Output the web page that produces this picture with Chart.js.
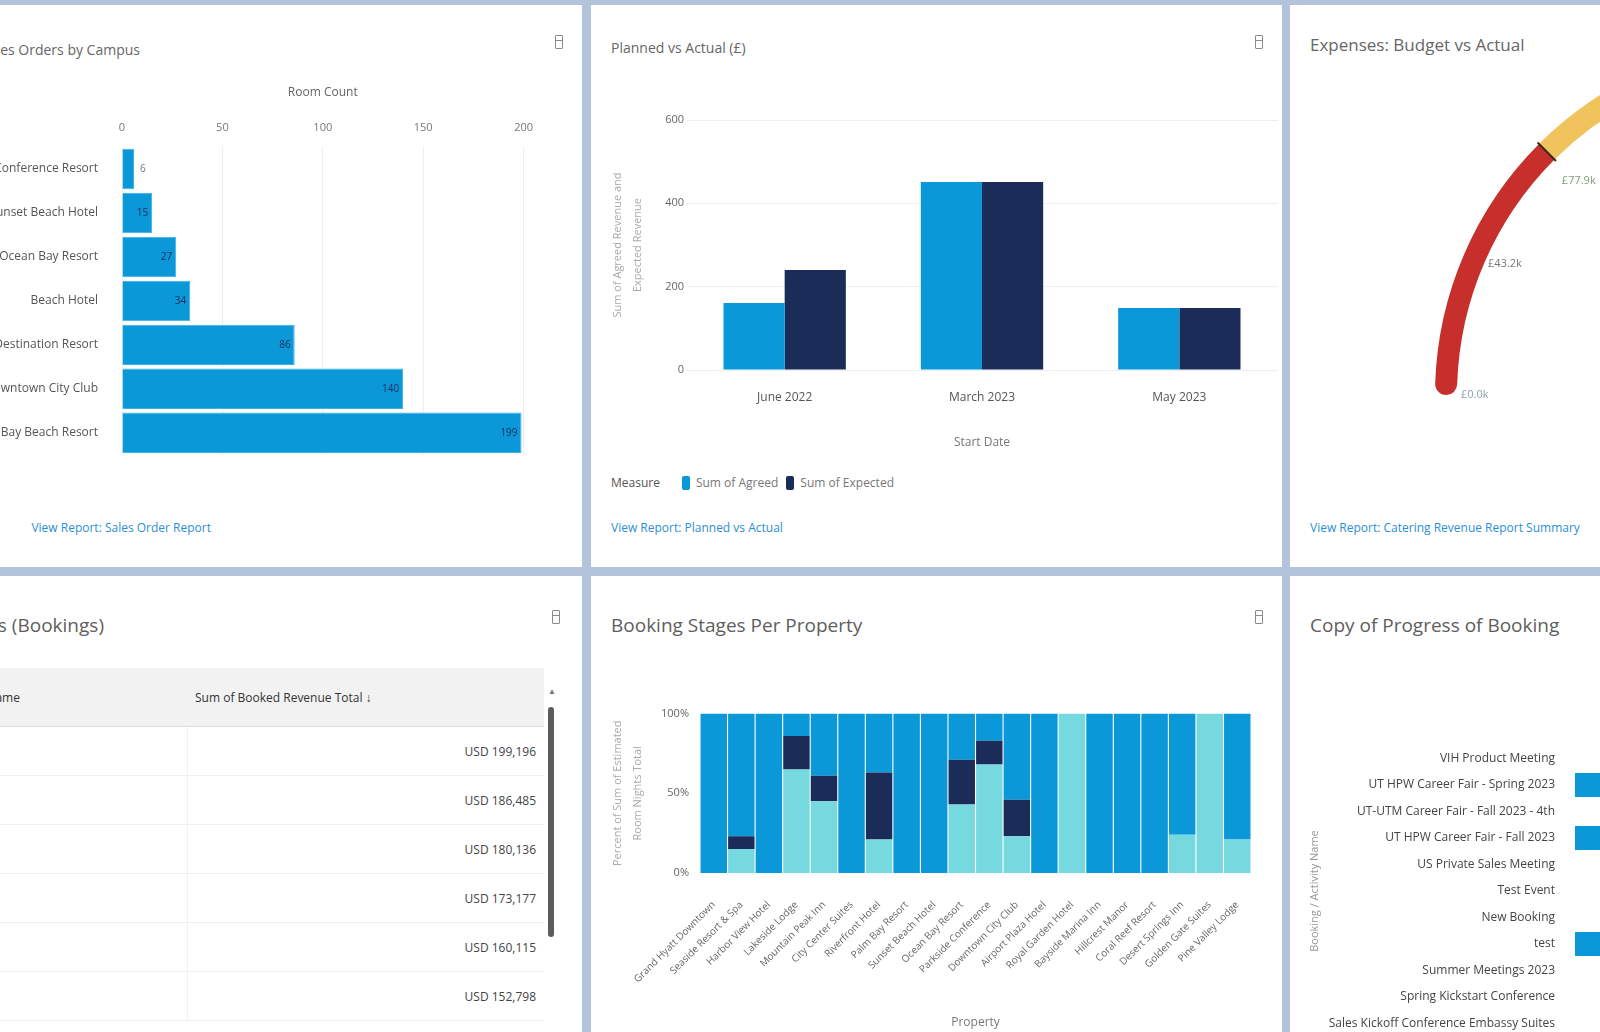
<!DOCTYPE html>
<html>
<head>
<meta charset="utf-8">
<title>Bookings dashboard</title>
<script src="https://cdn.jsdelivr.net/npm/chart.js@4.4.0/dist/chart.umd.min.js"></script>
<style>
  html, body { margin: 0; padding: 0; }
  body {
    width: 1600px; height: 1032px; overflow: hidden; position: relative;
    background: #b3c3dc;
    font-family: 'Segoe UI', 'Open Sans', 'Noto Sans', sans-serif;
  }
  .panel { position: absolute; background: #fff; overflow: hidden; }
  .panel canvas, .panel .abs { position: absolute; }
  .title-sm { font-size: 14px; line-height: 20px; color: #666; white-space: nowrap; }
  .title-md { font-size: 17px; line-height: 22px; color: #666; white-space: nowrap; }
  .title-lg { font-size: 19px; line-height: 26px; color: #605e5c; white-space: nowrap; }
  .link { font-size: 12px; line-height: 16px; color: #2a8fd6; white-space: nowrap; }
  .icon { width: 6px; height: 12px; border: 1.5px solid #8a8a8a; border-radius: 1px; }
  .icon::after { content: ''; position: absolute; left: 0; right: 0; top: 4px; border-top: 1.5px solid #8a8a8a; }
  .legend { font-size: 12px; line-height: 16px; color: #777; white-space: nowrap; display: flex; align-items: center; }
  .legend b { font-weight: normal; color: #555; margin-right: 14px; }
  .legend i { display: inline-block; width: 8px; height: 14px; border-radius: 2px; margin: 0 6px 0 8px; }
  table.grid { border-collapse: collapse; font-size: 12px; color: #444; table-layout: fixed; }
  table.grid th { background: #f2f2f2; height: 58px; font-weight: normal; color: #333; text-align: left;
                  padding: 0 8px; border-bottom: 1px solid #dcdcdc; white-space: nowrap; }
  table.grid td { height: 48px; padding: 0 8px; border-bottom: 1px solid #efefef; white-space: nowrap; }
  table.grid td:first-child { border-right: 1px solid #f0f0f0; }
  table.grid td.num { text-align: right; }
  .scroll { width: 6px; border-radius: 3px; background: #5c5c5c; }
</style>
</head>
<body>

<div class="panel" style="left:-107px;top:5px;width:689px;height:562px">
  <div class="abs title-sm" style="right:442px;top:35px">Sales Orders by Campus</div>
  <div class="abs icon" style="left:662px;top:30px"></div>
  <canvas id="campusChart" width="646" height="397" style="left:7px;top:76px"></canvas>
  <div class="abs link" style="right:371px;top:515px">View Report: Sales Order Report</div>
</div>

<div class="panel" style="left:591px;top:5px;width:691px;height:562px">
  <div class="abs title-sm" style="left:20px;top:33px">Planned vs Actual (£)</div>
  <div class="abs icon" style="left:664px;top:30px"></div>
  <canvas id="plannedChart" width="678" height="344" style="left:12px;top:105px"></canvas>
  <div class="abs legend" id="plannedLegend" style="left:20px;top:470px"><b>Measure</b></div>
  <div class="abs link" style="left:20px;top:515px">View Report: Planned vs Actual</div>
</div>

<div class="panel" style="left:1290px;top:5px;width:1110px;height:562px">
  <div class="abs title-md" style="left:20px;top:29px">Expenses: Budget vs Actual</div>
  <canvas id="gaugeChart" width="980" height="375" style="left:10px;top:25px"></canvas>
  <div class="abs link" style="left:20px;top:515px">View Report: Catering Revenue Report Summary</div>
</div>

<div class="panel" style="left:-107px;top:576px;width:689px;height:500px">
  <div class="abs title-lg" style="right:478px;top:36px">Top Accounts (Bookings)</div>
  <div class="abs icon" style="left:659px;top:34px"></div>
  <table class="abs grid" id="accountTable" style="left:37px;top:92px;width:614px">
    <colgroup><col style="width:257px"><col style="width:357px"></colgroup>
  </table>
  <div class="abs" style="left:655px;top:109px;font-size:8px;color:#777">&#9650;</div>
  <div class="abs scroll" style="left:655px;top:131px;height:230px"></div>
</div>

<div class="panel" style="left:591px;top:576px;width:691px;height:500px">
  <div class="abs title-lg" style="left:20px;top:36px">Booking Stages Per Property</div>
  <div class="abs icon" style="left:664px;top:34px"></div>
  <canvas id="stageChart" width="669" height="338" style="left:12px;top:120px"></canvas>
</div>

<div class="panel" style="left:1290px;top:576px;width:1110px;height:500px">
  <div class="abs title-lg" style="left:20px;top:36px">Copy of Progress of Booking</div>
  <canvas id="progressChart" width="700" height="330" style="left:14px;top:150px"></canvas>
</div>

<script>
// ---- data ----
const campusNames = ['Lakeside Conference Resort', 'Sunset Beach Hotel', 'Ocean Bay Resort', 'Beach Hotel',
                     'Mountain Destination Resort', 'Downtown City Club', 'Palm Bay Beach Resort'];
const campusRooms = [6, 15, 27, 34, 86, 140, 199];

const plannedMonths = ['June 2022', 'March 2023', 'May 2023'];
const agreedRevenue = [161, 451, 149];
const expectedRevenue = [240, 451, 149];

const gaugeBands = [25, 37, 38];
const gaugeTickValues = [0, 13, 24];
const gaugeTickLabels = ['£0.0k', '£43.2k', '£77.9k'];
const gaugeTarget = 25;

const accountNames = ['Contoso', 'Fabrikam', 'Adatum', 'Tailspin', 'Litware', 'Proseware'];
const accountRevenue = ['USD 199,196', 'USD 186,485', 'USD 180,136', 'USD 173,177', 'USD 160,115', 'USD 152,798'];

const properties = ['Grand Hyatt Downtown', 'Seaside Resort & Spa', 'Harbor View Hotel', 'Lakeside Lodge',
  'Mountain Peak Inn', 'City Center Suites', 'Riverfront Hotel', 'Palm Bay Resort', 'Sunset Beach Hotel',
  'Ocean Bay Resort', 'Parkside Conference', 'Downtown City Club', 'Airport Plaza Hotel', 'Royal Garden Hotel',
  'Bayside Marina Inn', 'Hillcrest Manor', 'Coral Reef Resort', 'Desert Springs Inn', 'Golden Gate Suites',
  'Pine Valley Lodge'];
const stageDefinite  = [0, 15, 0, 65, 45, 0, 21, 0, 0, 43, 68, 23, 0, 100, 0, 0, 0, 24, 100, 21];
const stageTentative = [0, 8, 0, 21, 16, 0, 42, 0, 0, 28, 15, 23, 0, 0, 0, 0, 0, 0, 0, 0];
const stageProspect  = [100, 77, 100, 14, 39, 100, 37, 100, 100, 29, 17, 54, 100, 0, 100, 100, 100, 76, 0, 79];

const progressEvents = ['VIH Product Meeting', 'UT HPW Career Fair - Spring 2023', 'UT-UTM Career Fair - Fall 2023 - 4th',
  'UT HPW Career Fair - Fall 2023', 'US Private Sales Meeting', 'Test Event', 'New Booking', 'test',
  'Summer Meetings 2023', 'Spring Kickstart Conference', 'Sales Kickoff Conference Embassy Suites'];
const progressValues = [0, 12, 0, 9, 0, 0, 0, 10, 0, 0, 0];

const BLUE = '#0a98d8', NAVY = '#1b2c58', TEAL = '#76d9e0', RED = '#c62f2b', YELLOW = '#f0c35c';

Chart.defaults.font.family = "'Segoe UI', 'Open Sans', 'Noto Sans', sans-serif";
Chart.defaults.animation = false;
Chart.defaults.plugins.tooltip.enabled = false;
Chart.defaults.plugins.legend.display = false;

// value labels at the end of each horizontal bar
const barValueLabels = {
  id: 'barValueLabels',
  afterDatasetsDraw(chart) {
    const ctx = chart.ctx;
    const meta = chart.getDatasetMeta(0);
    ctx.save();
    ctx.font = '10px ' + Chart.defaults.font.family;
    ctx.textBaseline = 'middle';
    meta.data.forEach((bar, i) => {
      const v = chart.data.datasets[0].data[i];
      if (bar.x - bar.base > 24) {
        ctx.textAlign = 'right'; ctx.fillStyle = NAVY;
        ctx.fillText(v, bar.x - 4, bar.y);
      } else {
        ctx.textAlign = 'left'; ctx.fillStyle = '#777';
        ctx.fillText(v, bar.x + 6, bar.y);
      }
    });
    ctx.restore();
  }
};

// --- Room count by campus (horizontal bars) ---
new Chart(document.getElementById('campusChart'), {
  type: 'bar',
  data: {
    labels: campusNames,
    datasets: [{ data: campusRooms, backgroundColor: BLUE, borderColor: '#3cb2e6', borderWidth: 1,
                 barPercentage: 0.92, categoryPercentage: 1 }]
  },
  options: {
    responsive: false, indexAxis: 'y',
    layout: { padding: { right: 10, bottom: 5 } },
    scales: {
      x: {
        position: 'top', min: 0, max: 200,
        ticks: { stepSize: 50, padding: 13, color: '#777', font: { size: 11 } },
        grid: { color: '#eeeeee', drawTicks: false }, border: { display: false },
        title: { display: true, text: 'Room Count', color: '#666', font: { size: 12 } },
        afterFit: s => { s.height = 66; }
      },
      y: {
        ticks: { padding: 16, color: '#555', font: { size: 12 } },
        grid: { display: false }, border: { display: false },
        afterFit: s => { s.width = 222; }
      }
    }
  },
  plugins: [barValueLabels]
});

// --- Planned vs actual (clustered columns) ---
const plannedChart = new Chart(document.getElementById('plannedChart'), {
  type: 'bar',
  data: {
    labels: plannedMonths,
    datasets: [
      { label: 'Sum of Agreed', data: agreedRevenue, backgroundColor: BLUE, barPercentage: 1, categoryPercentage: 0.62 },
      { label: 'Sum of Expected', data: expectedRevenue, backgroundColor: NAVY, barPercentage: 1, categoryPercentage: 0.62 }
    ]
  },
  options: {
    responsive: false,
    layout: { padding: { top: 10, right: 3 } },
    scales: {
      x: {
        ticks: { padding: 20, color: '#555', font: { size: 12 } },
        grid: { display: false, drawTicks: false }, border: { display: false },
        title: { display: true, text: 'Start Date', color: '#777', font: { size: 12 } },
        afterFit: s => { s.height = 84; }
      },
      y: {
        min: 0, max: 600,
        ticks: { stepSize: 200, padding: 2, color: '#666', font: { size: 11 } },
        grid: { color: '#eeeeee', drawTicks: false }, border: { display: false },
        title: { display: true, text: ['Sum of Agreed Revenue and', 'Expected Revenue'], color: '#aaa',
                 font: { size: 11, lineHeight: 1.9 } },
        afterFit: s => { s.width = 83; }
      }
    }
  }
});
const plannedLegend = document.getElementById('plannedLegend');
plannedChart.data.datasets.forEach(ds => {
  const mark = document.createElement('i');
  mark.style.background = ds.backgroundColor;
  plannedLegend.appendChild(mark);
  plannedLegend.appendChild(document.createTextNode(ds.label));
});

// --- Expenses gauge (half doughnut) ---
const gaugeText = {
  id: 'gaugeText',
  afterDatasetsDraw(chart) {
    const ctx = chart.ctx;
    const arc = chart.getDatasetMeta(0).data[0];
    const total = gaugeBands.reduce((a, b) => a + b, 0);
    const cx = arc.x, cy = arc.y, rIn = arc.innerRadius, rOut = arc.outerRadius;
    ctx.save();
    ctx.font = '11px ' + Chart.defaults.font.family;
    ctx.textAlign = 'left'; ctx.textBaseline = 'middle';
    const colors = ['#8aa7a8', '#777', '#7f9f77'];
    gaugeTickValues.forEach((v, i) => {
      const a = Math.PI + Math.PI * v / total;
      const r = rIn - 4 - (i === 2 ? 16 : 0);
      ctx.fillStyle = colors[i];
      ctx.fillText(gaugeTickLabels[i], cx + r * Math.cos(a), cy + r * Math.sin(a));
    });
    const t = Math.PI + Math.PI * gaugeTarget / total;
    ctx.strokeStyle = '#3a2a1a'; ctx.lineWidth = 2;
    ctx.beginPath();
    ctx.moveTo(cx + (rIn - 2) * Math.cos(t), cy + (rIn - 2) * Math.sin(t));
    ctx.lineTo(cx + (rOut + 2) * Math.cos(t), cy + (rOut + 2) * Math.sin(t));
    ctx.stroke();
    ctx.restore();
  }
};
new Chart(document.getElementById('gaugeChart'), {
  type: 'doughnut',
  data: {
    labels: ['Over budget', 'Near budget', 'Remaining'],
    datasets: [{
      data: gaugeBands, backgroundColor: [RED, YELLOW, '#e8e8e8'], borderWidth: 0,
      borderRadius: c => c.dataIndex === 0 ? { outerStart: 11, innerStart: 11, outerEnd: 0, innerEnd: 0 } : 0
    }]
  },
  options: { responsive: false, rotation: -90, circumference: 180, radius: 355, cutout: '93.8%' },
  plugins: [gaugeText]
});

// --- Accounts table ---
const table = document.getElementById('accountTable');
const head = table.createTHead().insertRow();
head.innerHTML = '<th>Account Name</th><th>Sum of Booked Revenue Total &#8595;</th>';
const body = table.createTBody();
accountNames.forEach((name, i) => {
  const row = body.insertRow();
  row.insertCell().textContent = name;
  const c = row.insertCell();
  c.className = 'num';
  c.textContent = accountRevenue[i];
});

// --- Booking stages per property (100% stacked columns) ---
new Chart(document.getElementById('stageChart'), {
  type: 'bar',
  data: {
    labels: properties,
    datasets: [
      { label: 'Definite', data: stageDefinite, backgroundColor: TEAL },
      { label: 'Tentative', data: stageTentative, backgroundColor: NAVY },
      { label: 'Prospect', data: stageProspect, backgroundColor: BLUE }
    ]
  },
  options: {
    responsive: false,
    datasets: { bar: { barPercentage: 0.96, categoryPercentage: 1 } },
    layout: { padding: { top: 10, right: 10 } },
    scales: {
      x: {
        stacked: true,
        ticks: { autoSkip: false, minRotation: 45, maxRotation: 45, padding: 26, color: '#666', font: { size: 10 } },
        grid: { display: false, drawTicks: false }, border: { display: false },
        title: { display: true, text: 'Property', color: '#777', font: { size: 12 } },
        afterFit: s => { s.height = 161; }
      },
      y: {
        stacked: true, min: 0, max: 100,
        ticks: { stepSize: 50, padding: 11, color: '#666', font: { size: 11 }, callback: v => v + '%' },
        grid: { display: false, drawTicks: false }, border: { display: false },
        title: { display: true, text: ['Percent of Sum of Estimated', 'Room Nights Total'], color: '#aaa',
                 font: { size: 11, lineHeight: 1.9 } },
        afterFit: s => { s.width = 97; }
      }
    }
  }
});

// --- Progress of booking (horizontal bars) ---
new Chart(document.getElementById('progressChart'), {
  type: 'bar',
  data: {
    labels: progressEvents,
    datasets: [{ data: progressValues, backgroundColor: BLUE, barPercentage: 0.9, categoryPercentage: 1 }]
  },
  options: {
    responsive: false, indexAxis: 'y',
    layout: { padding: { top: 10, bottom: 15, right: 20 } },
    scales: {
      x: { display: false, min: 0, max: 20 },
      y: {
        ticks: { autoSkip: false, padding: 12, color: '#444', font: { size: 12 } },
        grid: { display: false }, border: { display: false },
        title: { display: true, text: 'Booking / Activity Name', color: '#999', font: { size: 11 } },
        afterFit: s => { s.width = 271; }
      }
    }
  }
});
</script>
</body>
</html>
